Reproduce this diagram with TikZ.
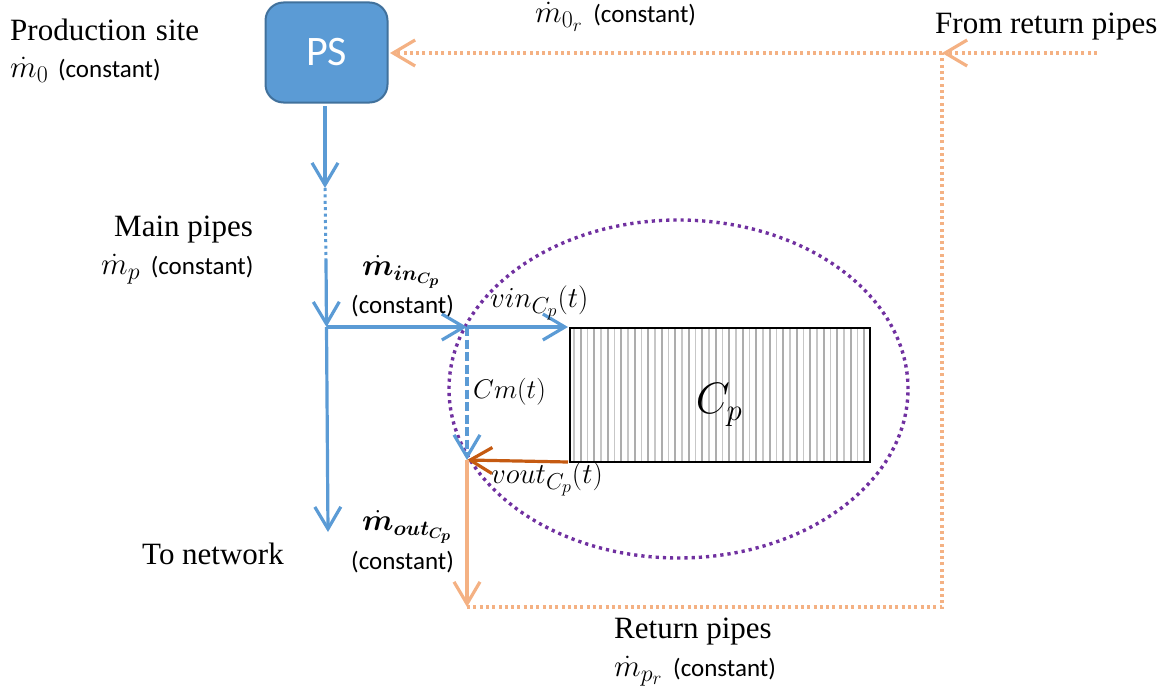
\RequirePackage{fix-cm}
\documentclass[tikz,border=0pt]{standalone}
\usepackage{amsmath,bm}
\usepackage{fontspec}
\setmainfont{Liberation Serif}
\newfontfamily\calib{Carlito}
\usetikzlibrary{arrows.meta,shapes.geometric}
\DeclareMathSizes{29}{29}{23}{18}
\DeclareMathSizes{31}{31}{24}{19}
\DeclareMathSizes{30.5}{30.5}{21}{15}
\definecolor{pipeblue}{HTML}{5B9BD5}
\definecolor{pipedark}{HTML}{41719C}
\definecolor{peach}{HTML}{F4B183}
\definecolor{rust}{HTML}{C55A11}
\definecolor{violetdot}{HTML}{7030A0}
\newcommand{\cst}{{\calib\fontsize{25}{28}\selectfont (constant)}}
\begin{document}
\begin{tikzpicture}[x=1pt,y=-1pt,
  barb/.style={-{Straight Barb[length=22pt,width=26pt,line width=3.2pt]}},
  blueline/.style={draw=pipeblue,line width=3.2pt},
  peachline/.style={draw=peach,line width=3.2pt},
  peachdot/.style={draw=peach,line width=3.2pt,dash pattern=on 3pt off 3.3pt},
  serifl/.style={font=\fontsize{31}{33}\selectfont,inner sep=0pt,anchor=west},
  mathl/.style={font=\fontsize{31}{33}\selectfont,inner sep=0pt,anchor=west},
  mathb/.style={font=\fontsize{30.5}{33}\selectfont,inner sep=0pt,anchor=west},
  mathv/.style={font=\fontsize{29}{32}\selectfont,inner sep=0pt,anchor=west},
  hatchlight/.style={black!22,line width=1.6pt},
  hatchdark/.style={black!32,line width=1.6pt}]
\useasboundingbox (0,0) rectangle (1175,693);
% storage tank and its hatching
\foreach \i in {0,2,...,42} \draw[hatchlight] ({574+\i*6.75},327) -- ({574+\i*6.75},461);
\foreach \i in {1,3,...,43} \draw[hatchdark] ({574+\i*6.75},327) -- ({574+\i*6.75},461);
\node[draw=black,line width=2.2pt,minimum width=300pt,minimum height=134pt,inner sep=0pt,anchor=north west] (tank) at (568.5,327) {};
\node[font=\fontsize{44}{48}\selectfont,inner sep=0pt] (cp) at (719,405) {$C_p$};
% ellipse
\node[draw=violetdot,line width=3.4pt,dash pattern=on 3.2pt off 4pt,ellipse,minimum width=459pt,minimum height=338pt,inner sep=0pt] (zone) at (678.5,389) {};
% PS
\node[draw=pipedark,line width=2pt,fill=pipeblue,rounded corners=18pt,minimum width=122pt,minimum height=100pt,inner sep=0pt,text=white,font=\calib\fontsize{42}{46}\selectfont] (ps) at (326.5,52.5) {PS};
% coordinates
\coordinate (psout) at (325,106);
\coordinate (a1) at (325,188);
\coordinate (a2) at (326,260);
\coordinate (j1) at (326.5,327);
\coordinate (net) at (328,532);
\coordinate (j2) at (467,327);
\coordinate (tankin) at (568,327);
\coordinate (j3) at (467,460);
\coordinate (tankout) at (568,462);
\coordinate (j4) at (467,607);
\coordinate (corner) at (942,607);
\coordinate (tee) at (942,53);
\coordinate (from) at (1097,53);
\coordinate (psin) at (390,53);
% blue
\draw[blueline,barb] (psout) -- (a1);
\draw[draw=pipeblue,line width=3pt,dash pattern=on 3pt off 3.4pt] (a1) -- (a2);
\draw[blueline,barb] (a2) -- (j1);
\draw[blueline,barb] (j1) -- (net);
\draw[blueline,barb] (j1) -- (j2);
\draw[blueline,barb] (j2) -- (tankin);
\draw[blueline,barb,dash pattern=on 9pt off 3.5pt] (j2) -- (j3);
% outlet
\draw[draw=rust,line width=3.2pt,barb] (tankout) -- (j3);
\draw[peachline,barb] (j3) -- (j4);
% return
\draw[peachdot] (j4) -- (corner) -- (tee);
\draw[peachdot,barb] (from) -- (tee);
\draw[peachdot,barb] (tee) -- (psin);
% labels
\node[serifl] (l1) at (10,30) {Production\hspace{2pt} site};
\node[mathl] (l2) at (10,70) {$\dot m_0$\hspace{2pt} \cst};
\node[serifl] (l3) at (114,230) {Main pipes};
\node[mathl] (l4) at (101,269) {$\dot m_p$\hspace{3pt} \cst};
\node[mathl] (l5) at (535,17) {$\dot m_{0_r}$\hspace{3pt} \cst};
\node[serifl] (l6) at (935,27) {From return pipes};
\node[mathb] (l7) at (362,272) {$\bm{\dot m_{in_{C_p}}}$};
\node[mathl] (l8) at (351,306) {\cst};
\node[mathv] (l9) at (490,303) {$vin_{C_p}(t)$};
\node[mathl,font=\fontsize{27}{30}\selectfont] (l10) at (473,392) {$Cm(t)$};
\node[mathv] (l11) at (491,479) {$vout_{C_p}(t)$};
\node[mathb] (l12) at (362,527) {$\bm{\dot m_{out_{C_p}}}$};
\node[mathl] (l13) at (351,562) {\cst};
\node[serifl] (l14) at (142,554) {To network};
\node[serifl] (l15) at (614,632) {Return pipes};
\node[mathl] (l16) at (614,671) {$\dot m_{p_r}$\hspace{3pt} \cst};
\end{tikzpicture}
\end{document}
